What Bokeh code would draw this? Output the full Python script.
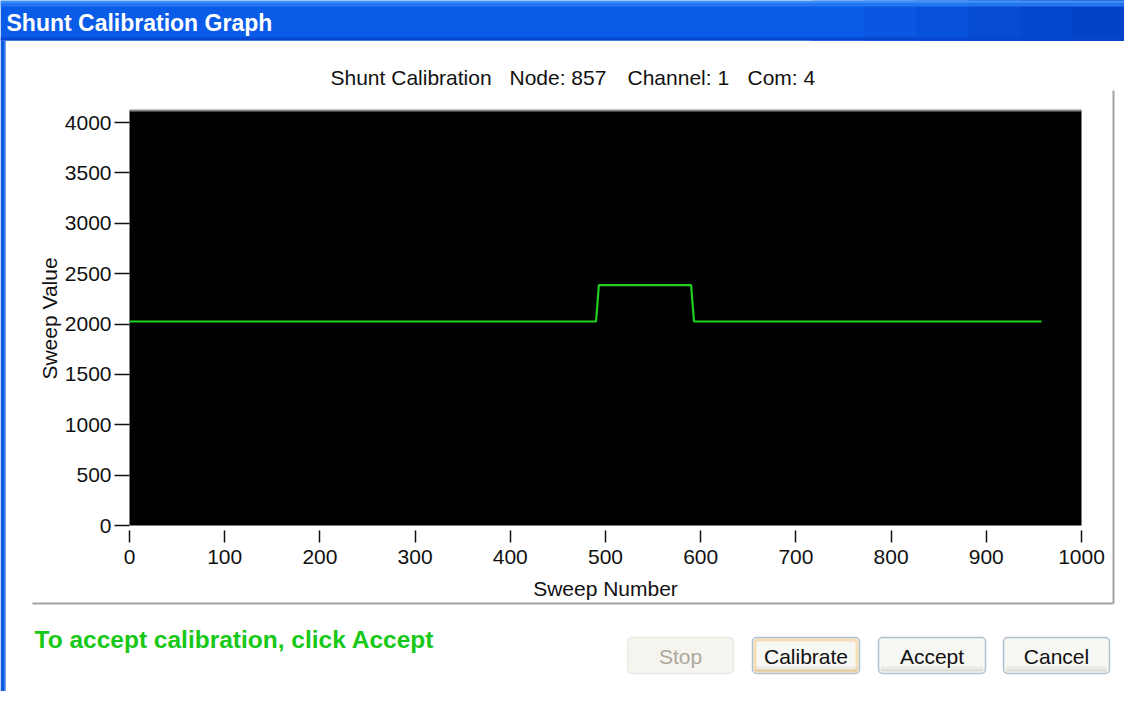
import math
from bokeh.plotting import figure
from bokeh.models import Range1d, LinearAxis, FixedTicker, BoxAnnotation
from bokeh.core.properties import value
from bokeh.embed import file_html
from bokeh.resources import INLINE

# ---------------- data ----------------
sweep_number = [0, 490, 491, 493, 590, 591, 593, 958]
sweep_value = [2025, 2025, 2135, 2385, 2385, 2250, 2025, 2025]
x_ticks = [0, 100, 200, 300, 400, 500, 600, 700, 800, 900, 1000]
y_ticks = [0, 500, 1000, 1500, 2000, 2500, 3000, 3500, 4000]
y_max = 4120
window_title = "Shunt Calibration Graph"
header_parts = ["Shunt Calibration", "Node: 857", "Channel: 1", "Com: 4"]
x_label = "Sweep Number"
y_label = "Sweep Value"
status_text = "To accept calibration, click Accept"
button_labels = ["Stop", "Calibrate", "Accept", "Cancel"]

# ---------------- layout (screenshot pixels) ----------------
W, H = 1124, 691
OX, OY = 8, 8
PX_X0, PX_X1 = 137, 1089      # pixel of x = 0 and x = 1000
PX_Y0, PX_Y4000 = 533, 130    # pixel of y = 0 and y = 4000
sx = (PX_X1 - PX_X0) / 1000.0
sy = (PX_Y0 - PX_Y4000) / 4000.0

FONT = "Liberation Sans"

p = figure(width=W, height=H,
           x_range=Range1d(-(PX_X0 - OX) / sx, 1000 + (OX + W - PX_X1) / sx),
           y_range=Range1d(-(OY + H - PX_Y0) / sy, 4000 + (PX_Y4000 - OY) / sy),
           x_axis_type=None, y_axis_type=None,
           output_backend="svg", toolbar_location=None,
           min_border=0, outline_line_color=None,
           background_fill_color="white", border_fill_color="white")
p.extra_x_ranges = {"px": Range1d(OX, OX + W)}
p.extra_y_ranges = {"px": Range1d(OY + H, OY)}


def box(l, r, t, b, **kw):
    ba = BoxAnnotation(left=l, right=r, top=t, bottom=b,
                       x_range_name="px", y_range_name="px", **kw)
    p.add_layout(ba)
    return ba

# window chrome: title bar and left border
box(8, 1132, 8, 48, fill_color="#0a5ce8", fill_alpha=1, line_color=None)
bands = ["#0a5ce8", "#0957e2", "#0852db", "#064cd3", "#0547cc", "#0443c6"]
for i, c in enumerate(bands):
    box(820 + i * 52, 1132, 8, 48, fill_color=c, fill_alpha=1, line_color=None)
box(8, 1132, 8, 11, fill_color="#3d8ff8", fill_alpha=1, line_color=None)
box(8, 1132, 11, 14, fill_color="#2576f2", fill_alpha=1, line_color=None)
box(8, 1132, 45, 48, fill_color="#0546cf", fill_alpha=1, line_color=None)
box(8, 13, 48, 699, fill_color="#0a5ae4", fill_alpha=1, line_color=None)
box(12, 13.5, 48, 699, fill_color="#6ea0f0", fill_alpha=1, line_color=None)

t = p.text(x=[14], y=[30], text=[window_title], x_range_name="px", y_range_name="px",
           text_font=value(FONT), text_font_style="bold", text_font_size=value("23px"),
           text_color="white", text_baseline="middle", text_align="left")
t.level = "overlay"

# separator frame lines
p.segment(x0=[40, 1121], y0=[611, 98], x1=[1121, 1121], y1=[611, 611],
          x_range_name="px", y_range_name="px", line_color="#a3a3a3", line_width=2)

# header text
p.text(x=[338, 517, 635, 755], y=[85] * 4, text=header_parts,
       x_range_name="px", y_range_name="px",
       text_font=value(FONT), text_font_size=value("21px"), text_color="#111111",
       text_baseline="middle", text_align="left")

# ---------------- chart ----------------
p.quad(left=[x_ticks[0]], right=[x_ticks[-1]], bottom=[y_ticks[0]], top=[y_max],
       fill_color="black", line_color=None)
p.segment(x0=[x_ticks[0]], x1=[x_ticks[-1]], y0=[y_max], y1=[y_max],
          line_color="#8a8a8a", line_width=2)
p.line(sweep_number, sweep_value, line_color="#1fd21f", line_width=2.2)

yaxis = LinearAxis(fixed_location=0, ticker=FixedTicker(ticks=y_ticks),
                   major_tick_out=15, major_tick_in=0,
                   minor_tick_out=0, minor_tick_in=0,
                   axis_line_color=None, major_tick_line_color="#111111",
                   major_tick_line_width=1.5,
                   major_label_text_font=FONT, major_label_text_font_size="21px",
                   major_label_text_color="#111111", major_label_standoff=3)
p.add_layout(yaxis, "left")

xaxis = LinearAxis(fixed_location=-(538 - PX_Y0) / sy, ticker=FixedTicker(ticks=x_ticks),
                   major_tick_out=12, major_tick_in=0,
                   minor_tick_out=0, minor_tick_in=0,
                   axis_line_color=None, major_tick_line_color="#111111",
                   major_tick_line_width=1.5,
                   major_label_text_font=FONT, major_label_text_font_size="21px",
                   major_label_text_color="#111111", major_label_standoff=7)
p.add_layout(xaxis, "below")

p.text(x=[613], y=[596], text=[x_label], x_range_name="px", y_range_name="px",
       text_font=value(FONT), text_font_size=value("21px"), text_color="#111111",
       text_baseline="middle", text_align="center")
p.text(x=[57], y=[326], text=[y_label], x_range_name="px", y_range_name="px",
       angle=math.pi / 2,
       text_font=value(FONT), text_font_size=value("21px"), text_color="#111111",
       text_baseline="middle", text_align="center")

# ---------------- status and buttons ----------------
p.text(x=[42], y=[647], text=[status_text], x_range_name="px", y_range_name="px",
       text_font=value(FONT), text_font_style="bold", text_font_size=value("24.5px"),
       text_color="#17c817", text_baseline="middle", text_align="left")

btn_left = [635, 760, 886, 1011]
btn_right = [741, 867, 993, 1117]
BT, BB = 645, 681
for i, lab in enumerate(button_labels):
    l, r = btn_left[i], btn_right[i]
    if lab == "Stop":
        box(l, r, BT, BB, fill_color="#f5f4ef", fill_alpha=1,
            line_color="#cac8bb", line_width=1.5, border_radius=4)
    else:
        box(l, r, BT, BB, fill_color="#f7f7f4", fill_alpha=1,
            line_color="#003c74", line_width=1.5, border_radius=4)
        box(l + 2, r - 2, BB - 7, BB - 2, fill_color="#ebeae4", fill_alpha=1,
            line_color=None, border_radius=3)
        box(l + 2, r - 2, BB - 4, BB - 2, fill_color="#dedcd3", fill_alpha=1,
            line_color=None, border_radius=2)
        if lab == "Calibrate":
            box(l + 2.5, r - 2.5, BT + 2.5, BB - 2.5, fill_alpha=0,
                line_color="#f6a92c", line_width=3, border_radius=3)

bt = p.text(x=[(a + b) / 2 for a, b in zip(btn_left, btn_right)], y=[664] * 4,
            text=button_labels, x_range_name="px", y_range_name="px",
            text_font=value(FONT), text_font_size=value("21px"),
            text_color=["#aca899", "#111111", "#111111", "#111111"],
            text_baseline="middle", text_align="center")
bt.level = "overlay"

open("out.html", "w").write(file_html(p, INLINE))
